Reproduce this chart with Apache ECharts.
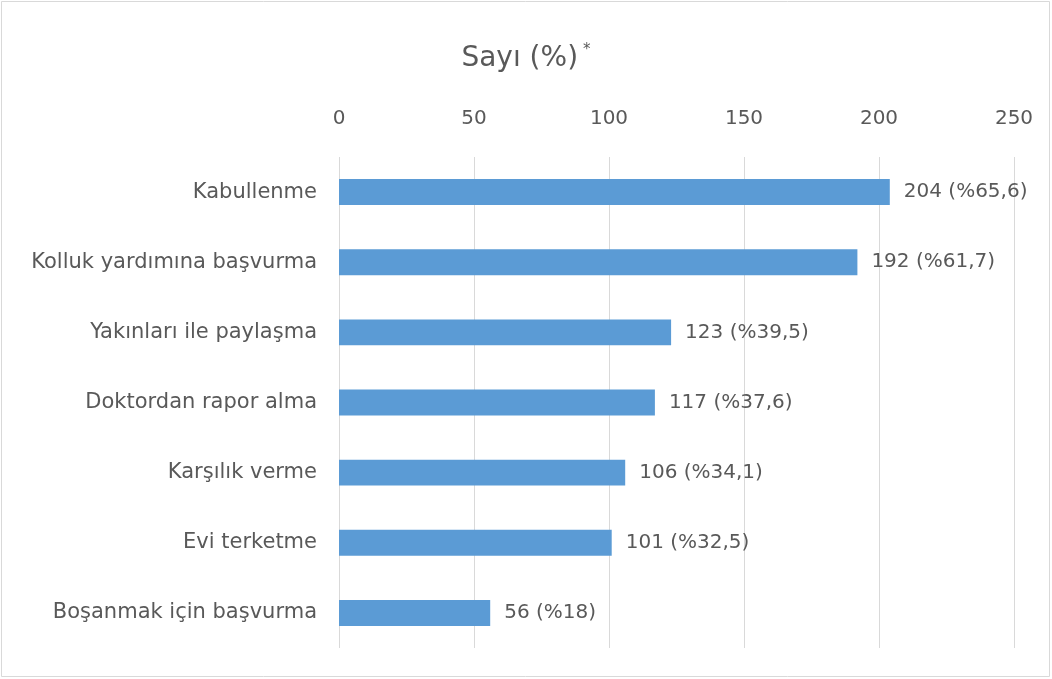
<!DOCTYPE html>
<html>
<head>
<meta charset="utf-8">
<script src="https://cdn.jsdelivr.net/npm/echarts@6/dist/echarts.min.js"></script>
<style>
  html, body { margin: 0; padding: 0; background: #ffffff; }
  #chart { width: 1052px; height: 679px; }
</style>
</head>
<body>
<div id="chart"></div>
<script>
// Responses to violence: count and share of respondents
const categories = [
  'Kabullenme',
  'Kolluk yardımına başvurma',
  'Yakınları ile paylaşma',
  'Doktordan rapor alma',
  'Karşılık verme',
  'Evi terketme',
  'Boşanmak için başvurma'
];
const counts = [204, 192, 123, 117, 106, 101, 56];
const percents = ['65,6', '61,7', '39,5', '37,6', '34,1', '32,5', '18'];
const xTicks = [0, 50, 100, 150, 200, 250];

const textColor = '#595959';
const fontFamily = '"DejaVu Sans", "Noto Sans", sans-serif';

const chart = echarts.init(document.getElementById('chart'), null, { renderer: 'canvas' });

chart.setOption({
  backgroundColor: '#ffffff',
  animation: false,
  title: {
    text: 'Sayı (%){sup|*}',
    left: 'center',
    top: 38,
    textStyle: {
      color: textColor,
      fontFamily: fontFamily,
      fontSize: 28,
      fontWeight: 'normal',
      rich: {
        sup: { fontSize: 15, color: textColor, verticalAlign: 'top', padding: [0, 0, 16, 5], fontFamily: fontFamily }
      }
    }
  },
  graphic: [{
    type: 'rect',
    shape: { x: 1.5, y: 1.5, width: 1048, height: 675 },
    style: { fill: 'none', stroke: '#d9d9d9', lineWidth: 1 },
    silent: true
  }],
  grid: { left: 339, right: 38, top: 157, bottom: 31, containLabel: false },
  xAxis: {
    type: 'value',
    position: 'top',
    min: xTicks[0],
    max: xTicks[xTicks.length - 1],
    interval: xTicks[1] - xTicks[0],
    axisLine: { show: false },
    axisTick: { show: false },
    axisLabel: {
      color: textColor,
      fontFamily: fontFamily,
      fontSize: 20,
      margin: 28
    },
    splitLine: { show: true, lineStyle: { color: '#d9d9d9', width: 1 } }
  },
  yAxis: {
    type: 'category',
    data: categories,
    inverse: true,
    axisLine: { show: false },
    axisTick: { show: false },
    axisLabel: {
      color: textColor,
      fontFamily: fontFamily,
      fontSize: 21,
      margin: 22
    }
  },
  series: [{
    type: 'bar',
    data: counts,
    barWidth: '37%',
    itemStyle: { color: '#5b9bd5' },
    label: {
      show: true,
      position: 'right',
      distance: 14,
      color: textColor,
      fontFamily: fontFamily,
      fontSize: 20,
      formatter: (p) => p.value + ' (%' + percents[p.dataIndex] + ')'
    }
  }]
});
</script>
</body>
</html>
